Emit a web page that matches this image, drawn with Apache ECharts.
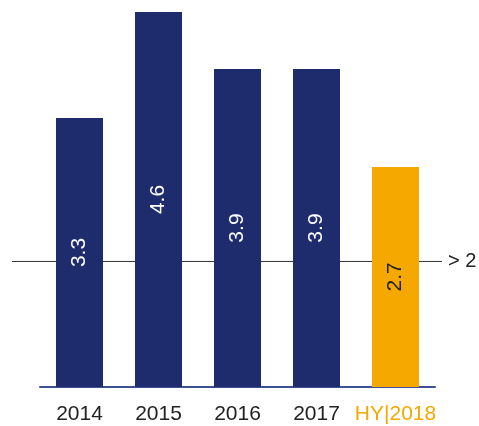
<!DOCTYPE html>
<html>
<head>
<meta charset="utf-8">
<script src="https://cdn.jsdelivr.net/npm/echarts@6/dist/echarts.min.js"></script>
<style>
  html, body { margin: 0; padding: 0; background: #fff; }
  #main { width: 479px; height: 426px; }
</style>
</head>
<body>
<div id="main"></div>
<script>
var years = ['2014', '2015', '2016', '2017', 'HY|2018'];
var values = [3.3, 4.6, 3.9, 3.9, 2.7];
var thresholdPos = 1.54;   // where the "> 2" line sits on the bar scale
var thresholdLabel = '> 2';

var navy = '#1e2c6e';
var orange = '#f5a800';

var mychart = echarts.init(document.getElementById('main'));
var option;

option = {
  animation: false,
  grid: [
    { left: 40, right: 44, top: 12, bottom: 39 },
    { left: 12, right: 37, top: 12, bottom: 39 }
  ],
  xAxis: [
    {
      type: 'category',
      gridIndex: 0,
      data: years,
      axisLine: { lineStyle: { color: '#3f5195', width: 2 } },
      axisTick: { show: false },
      axisLabel: {
        interval: 0,
        margin: 17,
        fontSize: 21,
        fontFamily: 'Liberation Sans, Arial, sans-serif',
        color: function (v) { return v === 'HY|2018' ? orange : '#222'; }
      }
    },
    { type: 'value', gridIndex: 1, min: 0, max: 1, show: false }
  ],
  yAxis: [
    { type: 'value', gridIndex: 0, min: 0, max: 4.6, show: false },
    { type: 'value', gridIndex: 1, min: 0, max: 4.6, show: false }
  ],
  series: [
    {
      type: 'bar',
      xAxisIndex: 0,
      yAxisIndex: 0,
      barWidth: 47,
      z: 3,
      data: values.map(function (v, i) {
        return {
          value: v,
          itemStyle: { color: i === 4 ? orange : navy },
          label: { color: i === 4 ? '#222' : '#fff' }
        };
      }),
      label: {
        show: true,
        position: 'inside',
        rotate: 90,
        fontSize: 21,
        fontFamily: 'Liberation Sans, Arial, sans-serif',
        formatter: function (p) { return p.value.toFixed(1); }
      }
    },
    {
      type: 'line',
      xAxisIndex: 1,
      yAxisIndex: 1,
      z: 1,
      symbol: 'none',
      lineStyle: { color: '#333', width: 1 },
      data: [[0, thresholdPos], [1, thresholdPos]],
      endLabel: {
        show: true,
        formatter: thresholdLabel,
        fontSize: 20,
        distance: 6,
        color: '#222',
        fontFamily: 'Liberation Sans, Arial, sans-serif'
      }
    }
  ]
};

mychart.setOption(option);
</script>
</body>
</html>
